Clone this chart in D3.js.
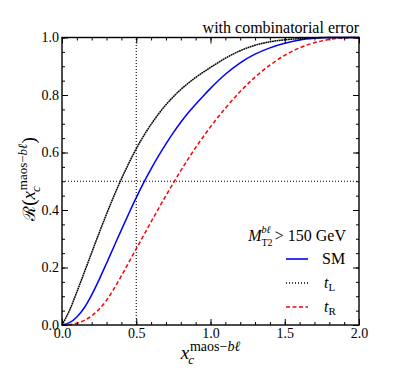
<!DOCTYPE html>
<html>
<head>
<meta charset="utf-8">
<script src="https://cdn.jsdelivr.net/npm/d3@7"></script>
<style>
  body { margin: 0; background: #fff; }
  svg { font-family: "Liberation Serif", "DejaVu Serif", serif; }
</style>
</head>
<body>
<svg id="chart" width="399" height="372"></svg>
<script>
// values
const xGrid = [0, 0.05, 0.1, 0.15, 0.2, 0.25, 0.3, 0.35, 0.4, 0.45, 0.5, 0.55, 0.6, 0.65, 0.7, 0.75, 0.8, 0.85, 0.9, 0.95, 1.0, 1.1, 1.2, 1.3, 1.4, 1.5, 1.6, 1.7, 1.8, 1.9, 2.0];
const smValues = [0, 0.008, 0.028, 0.06, 0.105, 0.158, 0.215, 0.273, 0.331, 0.388, 0.443, 0.495, 0.543, 0.588, 0.63, 0.669, 0.705, 0.738, 0.768, 0.796, 0.823, 0.872, 0.912, 0.942, 0.964, 0.98, 0.991, 0.997, 1.0, 1.0, 1.0];
const tLValues = [0, 0.05, 0.115, 0.183, 0.252, 0.32, 0.386, 0.449, 0.508, 0.563, 0.613, 0.658, 0.698, 0.734, 0.766, 0.794, 0.819, 0.841, 0.861, 0.879, 0.896, 0.928, 0.954, 0.973, 0.985, 0.992, 0.996, 0.999, 1.0, 1.0, 1.0];
const tRValues = [0, 0.001, 0.006, 0.016, 0.032, 0.055, 0.086, 0.126, 0.171, 0.218, 0.265, 0.312, 0.359, 0.405, 0.45, 0.494, 0.537, 0.578, 0.617, 0.654, 0.689, 0.754, 0.812, 0.862, 0.904, 0.938, 0.964, 0.982, 0.993, 0.999, 1.0];
const xTicks = [0, 0.5, 1.0, 1.5, 2.0];
const yTicks = [0, 0.2, 0.4, 0.6, 0.8, 1.0];
const refX = 0.5, refY = 0.5;

const svg = d3.select("#chart");
const margin = { left: 62, right: 40, top: 37.5, bottom: 47 };
const W = 399, H = 372;

const x = d3.scaleLinear().domain([0, 2]).range([margin.left, W - margin.right]);
const y = d3.scaleLinear().domain([0, 1]).range([H - margin.bottom, margin.top]);

const series = [
  { name: "SM", values: smValues, color: "#0000ff", dash: null },
  { name: "tL", values: tLValues, color: "#000000", dash: "1.8,0.5" },
  { name: "tR", values: tRValues, color: "#ff0000", dash: "4,2.5" }
];

// reference lines
svg.append("line")
  .attr("x1", x(refX)).attr("x2", x(refX))
  .attr("y1", y(0)).attr("y2", y(1))
  .style("stroke", "#000").style("stroke-width", 1.1).style("stroke-dasharray", "1,2");
svg.append("line")
  .attr("x1", x(0)).attr("x2", x(2))
  .attr("y1", y(refY)).attr("y2", y(refY))
  .style("stroke", "#000").style("stroke-width", 1.1).style("stroke-dasharray", "1,2");

const line = d3.line()
  .x((d, i) => x(xGrid[i]))
  .y(d => y(d))
  .curve(d3.curveMonotoneX);

// draw order: red, blue, black on top
[series[2], series[0], series[1]].forEach(s => {
  svg.append("path")
    .attr("d", line(s.values))
    .style("fill", "none")
    .style("stroke", s.color)
    .style("stroke-width", 1.5)
    .style("stroke-dasharray", s.dash);
});

// axes with inner ticks on all sides
const minorX = d3.range(0, 2.0001, 0.1);
const minorY = d3.range(0, 1.0001, 0.05);

const xAxisB = d3.axisBottom(x).tickValues(xTicks).tickSize(-6).tickFormat(d3.format(".1f")).tickPadding(3);
const xAxisT = d3.axisTop(x).tickValues(xTicks).tickSize(-6).tickFormat("");
const yAxisL = d3.axisLeft(y).tickValues(yTicks).tickSize(-6).tickFormat(d3.format(".1f")).tickPadding(3);
const yAxisR = d3.axisRight(y).tickValues(yTicks).tickSize(-6).tickFormat("");

function styleAxis(g) {
  g.select(".domain").remove();
  g.selectAll("line").style("stroke", "#000").style("stroke-width", 1);
  g.selectAll("text").style("font-size", "14px").style("font-family", "Liberation Serif, serif").style("fill", "#000");
}

svg.append("g").attr("transform", `translate(0,${y(0)})`).call(xAxisB).call(styleAxis);
svg.append("g").attr("transform", `translate(0,${y(1)})`).call(xAxisT).call(styleAxis);
svg.append("g").attr("transform", `translate(${x(0)},0)`).call(yAxisL).call(styleAxis);
svg.append("g").attr("transform", `translate(${x(2)},0)`).call(yAxisR).call(styleAxis);

// minor ticks
svg.append("g").attr("transform", `translate(0,${y(0)})`)
  .call(d3.axisBottom(x).tickValues(minorX).tickSize(-3).tickFormat("")).call(styleAxis);
svg.append("g").attr("transform", `translate(0,${y(1)})`)
  .call(d3.axisTop(x).tickValues(minorX).tickSize(-3).tickFormat("")).call(styleAxis);
svg.append("g").attr("transform", `translate(${x(0)},0)`)
  .call(d3.axisLeft(y).tickValues(minorY).tickSize(-3).tickFormat("")).call(styleAxis);
svg.append("g").attr("transform", `translate(${x(2)},0)`)
  .call(d3.axisRight(y).tickValues(minorY).tickSize(-3).tickFormat("")).call(styleAxis);

// frame
svg.append("rect")
  .attr("x", x(0)).attr("y", y(1))
  .attr("width", x(2) - x(0)).attr("height", y(0) - y(1))
  .style("fill", "none").style("stroke", "#000").style("stroke-width", 1.4);

// title
svg.append("text")
  .attr("x", x(2)).attr("y", 33)
  .attr("text-anchor", "end")
  .style("font-size", "16px")
  .text("with combinatorial error");

// x label
const xl = svg.append("text")
  .attr("x", x(1)).attr("y", 359)
  .attr("text-anchor", "middle")
  .style("font-size", "19px");
xl.append("tspan").style("font-style", "italic").text("x");
xl.append("tspan").attr("dy", 5).attr("dx", -1).style("font-size", "13px").style("font-style", "italic").text("c");
xl.append("tspan").attr("dy", -13).attr("dx", -4).style("font-size", "14px").text("maos\u2212");
xl.append("tspan").style("font-size", "14px").style("font-style", "italic").text("b\u2113");

// y label
const yl = svg.append("text")
  .attr("transform", `translate(35,179) rotate(-90)`)
  .attr("text-anchor", "middle")
  .style("font-size", "19px");
yl.append("tspan").style("font-family", "DejaVu Serif, serif").style("font-size", "17px").text("\u211B");
yl.append("tspan").text("(");
yl.append("tspan").style("font-style", "italic").text("x");
yl.append("tspan").attr("dy", 5).attr("dx", -1).style("font-size", "13px").style("font-style", "italic").text("c");
yl.append("tspan").attr("dy", -13).attr("dx", -4).style("font-size", "13px").text("maos\u2212");
yl.append("tspan").style("font-size", "13px").style("font-style", "italic").text("b\u2113");
yl.append("tspan").attr("dy", 8).text(")");

// legend header
const lh = svg.append("text")
  .attr("x", 346).attr("y", 241)
  .attr("text-anchor", "end")
  .style("font-size", "16px");
lh.append("tspan").style("font-style", "italic").text("M");
lh.append("tspan").attr("dy", 4.5).style("font-size", "10px").text("T2");
lh.append("tspan").attr("dy", -13).attr("dx", -11).style("font-size", "10px").style("font-style", "italic").text("b\u2113");
lh.append("tspan").attr("dy", 8.5).text(" > 150 GeV");

// legend entries
const legendItems = [
  { s: series[0], ly: 259, label: "SM", sub: null },
  { s: series[1], ly: 283, label: "t", sub: "L" },
  { s: series[2], ly: 307, label: "t", sub: "R" }
];
legendItems.forEach(item => {
  svg.append("line")
    .attr("x1", 286).attr("x2", 308)
    .attr("y1", item.ly).attr("y2", item.ly)
    .style("stroke", item.s.color)
    .style("stroke-width", 1.6)
    .style("stroke-dasharray", item.s.name === "tL" ? "1,2" : item.s.dash);
  const t = svg.append("text")
    .attr("x", item.sub ? 324 : 322).attr("y", item.ly + 5)
    .style("font-size", "16px");
  if (item.sub) {
    t.append("tspan").style("font-style", "italic").text(item.label);
    t.append("tspan").attr("dy", 3).style("font-size", "11px").text(item.sub);
  } else {
    t.text(item.label);
  }
});
</script>
</body>
</html>
